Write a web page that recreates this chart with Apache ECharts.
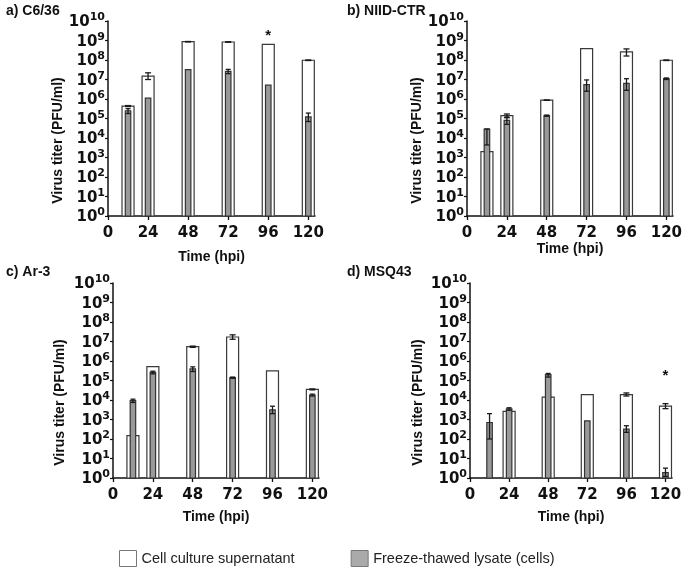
<!DOCTYPE html>
<html>
<head>
<meta charset="utf-8">
<script src="https://cdn.jsdelivr.net/npm/echarts@6/dist/echarts.min.js"></script>
<style>
  html, body { margin: 0; padding: 0; background: #fff; }
  #chart { width: 685px; height: 567px; }
</style>
</head>
<body>
<div id="chart"></div>
<script>
// time points (hpi)
var hours = [12, 24, 48, 72, 96, 120];

// a) C6/36
var supA = [4.3e5, 1.5e7, 8.7e8, 8.4e8, 6.4e8, 9.7e7];
var supAErr = [[4.1e5, 4.6e5], [1.0e7, 2.2e7], [8.5e8, 8.9e8], [8.2e8, 8.6e8], null, [9.4e7, 1.0e8]];
var cellA = [2.5e5, 1.1e6, 3.2e7, 2.6e7, 5.1e6, 1.2e5];
var cellAErr = [[1.8e5, 3.2e5], null, null, [2.0e7, 3.3e7], null, [7e4, 1.9e5]];
var starA = [[96, 1.7e9]];

// b) NIID-CTR
var supB = [2.0e3, 1.4e5, 8.7e5, 3.8e8, 2.6e8, 9.7e7];
var supBErr = [null, [1.1e5, 1.7e5], [8.5e5, 8.9e5], null, [1.6e8, 3.7e8], [9.4e7, 1.0e8]];
var cellB = [2.9e4, 8.0e4, 1.4e5, 5.5e6, 6.4e6, 1.1e7];
var cellBErr = [[4.4e3, 2.9e4], [5e4, 1.2e5], [1.3e5, 1.5e5], [2.5e6, 9.5e6], [2.8e6, 1.1e7], [1.0e7, 1.2e7]];
var starB = [];

// c) Ar-3
var supC = [1.5e2, 5.1e5, 5.4e6, 1.7e7, 3.1e5, 3.5e4];
var supCErr = [[8e1, 2.5e2], null, [5.0e6, 5.8e6], [1.3e7, 2.2e7], null, [3.3e4, 3.7e4]];
var cellC = [9.3e3, 2.6e5, 3.9e5, 1.4e5, 3.1e3, 1.8e4];
var cellCErr = [[7.5e3, 1.1e4], [2.2e5, 3.0e5], [2.9e5, 5.0e5], [1.3e5, 1.5e5], [2.0e3, 4.8e3], [1.6e4, 2.0e4]];
var starC = [];

// d) MSQ43
var supD = ['-', 2.6e3, 1.4e4, 1.9e4, 1.9e4, 4.9e3];
var supDErr = [null, [2.0e3, 3.2e3], [1.3e4, 1.5e4], null, [1.6e4, 2.3e4], [3.6e3, 6.5e3]];
var cellD = [7.0e2, 3.5e3, 2.0e5, 8.5e2, 3.2e2, 1.9];
var cellDErr = [[1e2, 2e3], [3e3, 4e3], [1.5e5, 2.3e5], null, [2.2e2, 4.8e2], [1.2, 3.2]];
var starD = [[120, 1.8e5]];

var panelTitles = ['a) C6/36', 'b) NIID-CTR', 'c) Ar-3', 'd) MSQ43'];
var xTicks = [0, 24, 48, 72, 96, 120];
var yTicks = [1, 1e1, 1e2, 1e3, 1e4, 1e5, 1e6, 1e7, 1e8, 1e9, 1e10];
var seriesNames = ['Cell culture supernatant', 'Freeze-thawed lysate (cells)'];

var panels = [
  {sup: supA, supErr: supAErr, cell: cellA, cellErr: cellAErr, star: starA},
  {sup: supB, supErr: supBErr, cell: cellB, cellErr: cellBErr, star: starB},
  {sup: supC, supErr: supCErr, cell: cellC, cellErr: cellCErr, star: starC},
  {sup: supD, supErr: supDErr, cell: cellD, cellErr: cellDErr, star: starD}
];

// layout of the 4 plots
var grids = [
  {left: 108, top: 21, width: 207, height: 195},
  {left: 467, top: 21, width: 208, height: 195},
  {left: 113, top: 283, width: 206, height: 195},
  {left: 470, top: 283, width: 202, height: 195}
];
var xNameGaps = [34, 24, 32, 32];
var yNameGaps = [41, 42, 46, 45];

var tickFont = 'DejaVu Sans';
var textFont = 'Liberation Sans, Arial, sans-serif';

function barItem(w, fill, stroke) {
  return function (params, api) {
    var x = api.value(0), y = api.value(1);
    if (isNaN(y)) return null;
    var p = api.coord([x, y]);
    var base = api.coord([x, 1]);
    return {
      type: 'rect',
      shape: {x: p[0] - w / 2, y: p[1], width: w, height: base[1] - p[1]},
      style: {fill: fill, stroke: stroke, lineWidth: 1.2}
    };
  };
}

function errItem(cap) {
  return function (params, api) {
    var x = api.value(0);
    var lo = api.coord([x, api.value(1)]);
    var hi = api.coord([x, api.value(2)]);
    var st = {stroke: '#1a1a1a', lineWidth: 1.3};
    return {
      type: 'group',
      children: [
        {type: 'line', shape: {x1: lo[0], y1: lo[1], x2: hi[0], y2: hi[1]}, style: st},
        {type: 'line', shape: {x1: lo[0] - cap, y1: lo[1], x2: lo[0] + cap, y2: lo[1]}, style: st},
        {type: 'line', shape: {x1: hi[0] - cap, y1: hi[1], x2: hi[0] + cap, y2: hi[1]}, style: st}
      ]
    };
  };
}

function starItem(params, api) {
  var p = api.coord([api.value(0), api.value(1)]);
  return {
    type: 'text',
    x: p[0], y: p[1],
    style: {text: '*', fill: '#111', font: 'bold 15px ' + textFont, align: 'center', verticalAlign: 'middle'}
  };
}

function pairs(vals) {
  var out = [];
  for (var i = 0; i < hours.length; i++) out.push([hours[i], vals[i]]);
  return out;
}
function errs(vals) {
  var out = [];
  for (var i = 0; i < hours.length; i++) {
    if (vals[i]) out.push([hours[i], vals[i][0], vals[i][1]]);
  }
  return out;
}

var xAxes = [], yAxes = [], series = [], titles = [];
for (var k = 0; k < 4; k++) {
  xAxes.push({
    type: 'value', gridIndex: k, min: 0, max: 124, interval: 24,
    name: 'Time (hpi)', nameLocation: 'middle', nameGap: xNameGaps[k],
    nameTextStyle: {fontFamily: textFont, fontWeight: 'bold', fontSize: 14, color: '#111'},
    axisLine: {lineStyle: {color: '#111', width: 1.5}},
    axisTick: {length: 4, lineStyle: {color: '#111', width: 1.3}, customValues: xTicks},
    axisLabel: {fontFamily: tickFont, fontWeight: 'bold', fontSize: 15, color: '#111', margin: 10, customValues: xTicks},
    splitLine: {show: false}
  });
  yAxes.push({
    type: 'log', logBase: 10, gridIndex: k, min: 1, max: 1e10,
    name: 'Virus titer (PFU/ml)', nameLocation: 'middle', nameGap: yNameGaps[k],
    // name sits a little below the axis middle in the original
    nameTextStyle: {fontFamily: textFont, fontWeight: 'bold', fontSize: 14, color: '#111', padding: [0, 44, 0, 0]},
    axisLine: {show: true, lineStyle: {color: '#111', width: 1.5}},
    axisTick: {show: true, length: 3, lineStyle: {color: '#111', width: 1.2}, customValues: yTicks},
    axisLabel: {
      margin: 3,
      customValues: yTicks,
      formatter: function (v) {
        return '{b|10}{s|' + Math.round(Math.log10(v)) + '}';
      },
      rich: {
        b: {fontFamily: tickFont, fontWeight: 'bold', fontSize: 15, color: '#111', verticalAlign: 'bottom', lineHeight: 18},
        s: {fontFamily: tickFont, fontWeight: 'bold', fontSize: 11, color: '#111', verticalAlign: 'top', lineHeight: 18}
      }
    },
    splitLine: {show: false}
  });
  var pnl = panels[k];
  series.push({
    type: 'custom', name: seriesNames[0], xAxisIndex: k, yAxisIndex: k,
    itemStyle: {color: '#fff', borderColor: '#444'},
    renderItem: barItem(12, '#fff', '#3a3a3a'), data: pairs(pnl.sup), z: 2
  });
  series.push({
    type: 'custom', name: seriesNames[0], xAxisIndex: k, yAxisIndex: k,
    renderItem: errItem(3), data: errs(pnl.supErr), z: 3
  });
  series.push({
    type: 'custom', name: seriesNames[1], xAxisIndex: k, yAxisIndex: k,
    itemStyle: {color: '#999', borderColor: '#444'},
    renderItem: barItem(5.5, '#999', '#333'), data: pairs(pnl.cell), z: 4
  });
  series.push({
    type: 'custom', name: seriesNames[1], xAxisIndex: k, yAxisIndex: k,
    renderItem: errItem(2.5), data: errs(pnl.cellErr), z: 5
  });
  series.push({
    type: 'custom', xAxisIndex: k, yAxisIndex: k,
    renderItem: starItem, data: pnl.star, z: 6
  });
  titles.push({
    text: panelTitles[k],
    left: k % 2 === 0 ? 1 : 342,
    top: k < 2 ? -1 : 260,
    textStyle: {fontFamily: textFont, fontWeight: 'bold', fontSize: 14, color: '#111'}
  });
}

var chart = echarts.init(document.getElementById('chart'));
chart.setOption({
  animation: false,
  title: titles,
  grid: grids,
  xAxis: xAxes,
  yAxis: yAxes,
  legend: {
    left: 114, top: 545,
    itemWidth: 17, itemHeight: 16, itemGap: 56, itemTextGap: 8,
    textStyle: {fontFamily: textFont, fontSize: 14.5, color: '#222'},
    data: [
      {name: seriesNames[0], icon: 'rect', itemStyle: {color: '#fff', borderColor: '#777', borderWidth: 1}},
      {name: seriesNames[1], icon: 'rect', itemStyle: {color: '#aaa', borderColor: '#777', borderWidth: 1}}
    ]
  },
  series: series
});
</script>
</body>
</html>
